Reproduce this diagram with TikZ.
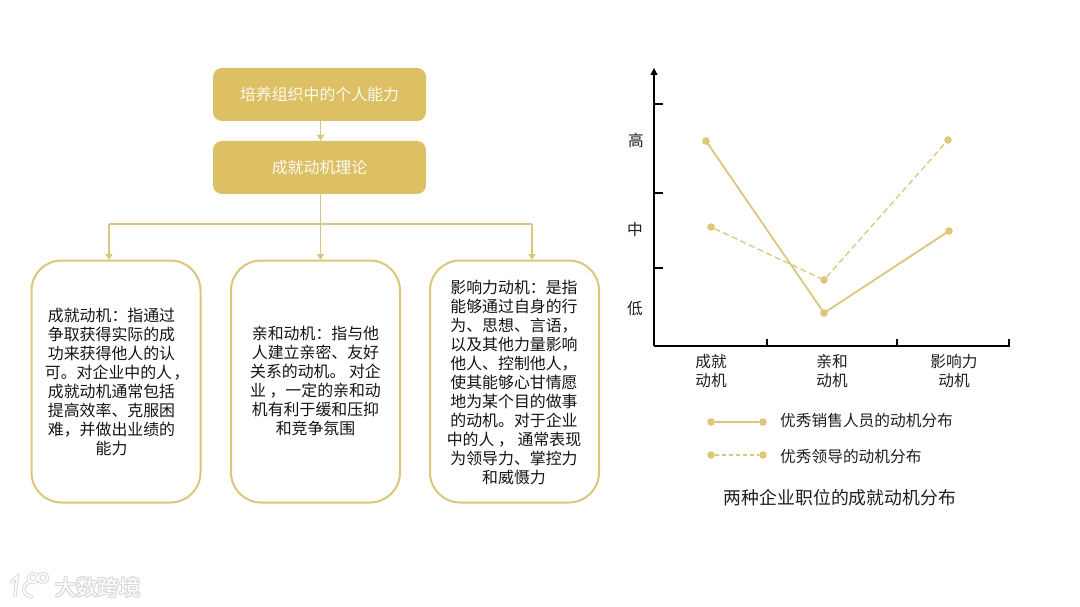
\documentclass[tikz,border=0pt]{standalone}
\usepackage{fontspec}
\usetikzlibrary{arrows.meta}
\setmainfont{Noto Sans CJK SC}
\definecolor{gold}{HTML}{DCC063}
\definecolor{goldline}{HTML}{DBC77C}
\definecolor{dotgold}{HTML}{E0C777}
\definecolor{wm}{HTML}{DADADA}
\newcommand\tightcomma{\kern1.5pt\makebox[4.5pt][l]{，}}
\tikzset{
  x=1pt,y=-1pt,
  headbox/.style={draw=none,fill=gold,rounded corners=9pt,minimum width=213pt,minimum height=53pt,text=white!92!gold,font=\fontsize{15.9}{20}\selectfont,inner sep=0pt},
  topicbox/.style={draw=goldline,line width=2pt,fill=white,rounded corners=30pt,minimum width=169pt,minimum height=242pt,inner sep=0pt},
  bodytext/.style={align=center,text=black!92,font=\fontsize{15.9}{19}\selectfont,inner sep=0pt},
  conn/.style={draw=goldline,line width=1.5pt,-{Triangle[length=6pt,width=7pt]}},
  bus/.style={draw=goldline,line width=1.5pt},
  axisline/.style={draw=black,line width=1.2pt},
  solidser/.style={draw=goldline,line width=1.8pt},
  dashser/.style={draw=goldline,line width=1.3pt,dash pattern=on 6pt off 3.5pt},
  legdash/.style={draw=goldline,line width=1.4pt,dash pattern=on 4pt off 3pt},
  dotm/.style={circle,fill=dotgold,draw=none,minimum size=7.6pt,inner sep=0pt},
  lab/.style={align=center,text=black!88,font=\fontsize{15.7}{19}\selectfont,inner sep=0pt},
}
\begin{document}
\begin{tikzpicture}
\useasboundingbox (0,0) rectangle (1080,607);
\fill[white] (0,0) rectangle (1080,607);
% flow
\node[headbox] (a) at (319.5,94.5) {培养组织中的个人能力};
\node[headbox] (b) at (319.5,167.5) {成就动机理论};
\node[topicbox] (c1) at (116,381.5) {};
\node[topicbox] (c2) at (315.5,381.5) {};
\node[topicbox] (c3) at (514.5,381.5) {};
\node[bodytext] (t1) at (111.5,381.5) {成就动机：指通过\\争取获得实际的成\\功来获得他人的认\\可。对企业中的人\tightcomma\\成就动机通常包括\\提高效率、克服困\\难，并做出业绩的\\能力};
\node[bodytext] (t2) at (315.5,380.5) {亲和动机：指与他\\人建立亲密、友好\\关系的动机。 对企\\业 ，一定的亲和动\\机有利于缓和压抑\\和竞争氛围};
\node[bodytext] (t3) at (514,382.5) {影响力动机：是指\\能够通过自身的行\\为、思想、言语，\\以及其他力量影响\\他人、控制他人，\\使其能够心甘情愿\\地为某个目的做事\\的动机。对于企业\\中的人 ， 通常表现\\为领导力、掌控力\\和威慑力};
\coordinate (j) at (320.5,224);
\coordinate (l) at (109,224);
\coordinate (r) at (532,224);
\coordinate (c1t) at (109,260);
\coordinate (c2t) at (320.5,260);
\coordinate (c3t) at (532,260);
\coordinate (as) at (320.5,121);
\coordinate (bn) at (320.5,141);
\coordinate (bs) at (320.5,194);
\draw[conn] (as) -- (bn);
\draw[conn] (bs) -- (c2t);
\draw[bus] (l) -- (r);
\draw[conn] (l) -- (c1t);
\draw[conn] (r) -- (c3t);
% chart axes
\coordinate (o) at (654,346);
\coordinate (ytop) at (654,68);
\coordinate (xend) at (1009,346);
\draw[axisline,-{Triangle[length=7pt,width=7pt]}] (o) -- (ytop);
\draw[axisline] (o) -- (xend) -- (1009,339);
\foreach \yy in {104,193,268} \draw[axisline] (654,\yy) -- (663,\yy);
\foreach \xx in {767,897} \draw[axisline] (\xx,346) -- (\xx,339);
\node[lab] (hi) at (636,141) {高};
\node[lab] (mid) at (635,230) {中};
\node[lab] (lo) at (635,309) {低};
\node[lab] (x1) at (711,371) {成就\\动机};
\node[lab] (x2) at (832,371) {亲和\\动机};
\node[lab] (x3) at (954,371) {影响力\\动机};
% series
\node[dotm] (s1) at (706,141) {};
\node[dotm] (s2) at (824,313) {};
\node[dotm] (s3) at (949,231) {};
\node[dotm] (d1) at (711,227) {};
\node[dotm] (d2) at (824,280) {};
\node[dotm] (d3) at (948,140) {};
\draw[solidser] (s1.center) -- (s2.center) -- (s3.center);
\draw[dashser] (d1) -- (d2) -- (d3);
% legend
\node[dotm] (l1) at (711,422) {};
\node[dotm] (l1e) at (763,422) {};
\draw[solidser] (l1) -- (l1e);
\node[lab,anchor=west] (l1t) at (780,421) {优秀销售人员的动机分布};
\node[dotm] (l2) at (711,455) {};
\node[dotm] (l2e) at (763,455) {};
\draw[legdash] (l2) -- (l2e);
\node[lab,anchor=west] (l2t) at (780,457) {优秀领导的动机分布};
\node[lab,font=\fontsize{17.85}{20}\selectfont] (title) at (840,498) {两种企业职位的成就动机分布};
% watermark
\begin{scope}[line cap=round]
\foreach \w/\c in {3.6/wm,1.6/white}{
  \draw[\c,line width=\w pt] (11,582) -- (17,577) -- (15,596);
  \draw[\c,line width=\w pt] (31,581) .. controls (21,585) and (21,595) .. (32,597);
  \draw[\c,line width=\w pt] (33,578) circle[radius=4.5];
  \draw[\c,line width=\w pt] (43,578) circle[radius=4.5];
}
\end{scope}
\foreach \dx/\dy/\c in {-1/0/wm,1/0/wm,0/-1/wm,0/1/wm,1/1/wm,-1/-1/wm,1/-1/wm,-1/1/wm}{
  \node[text=\c,font=\fontsize{21.3}{20}\selectfont,inner sep=0pt,anchor=west] at (55+\dx,587+\dy) {大数跨境};
}
\node[text=white,font=\fontsize{21.3}{20}\selectfont,inner sep=0pt,anchor=west] (wmk) at (55,587) {大数跨境};
\end{tikzpicture}
\end{document}
